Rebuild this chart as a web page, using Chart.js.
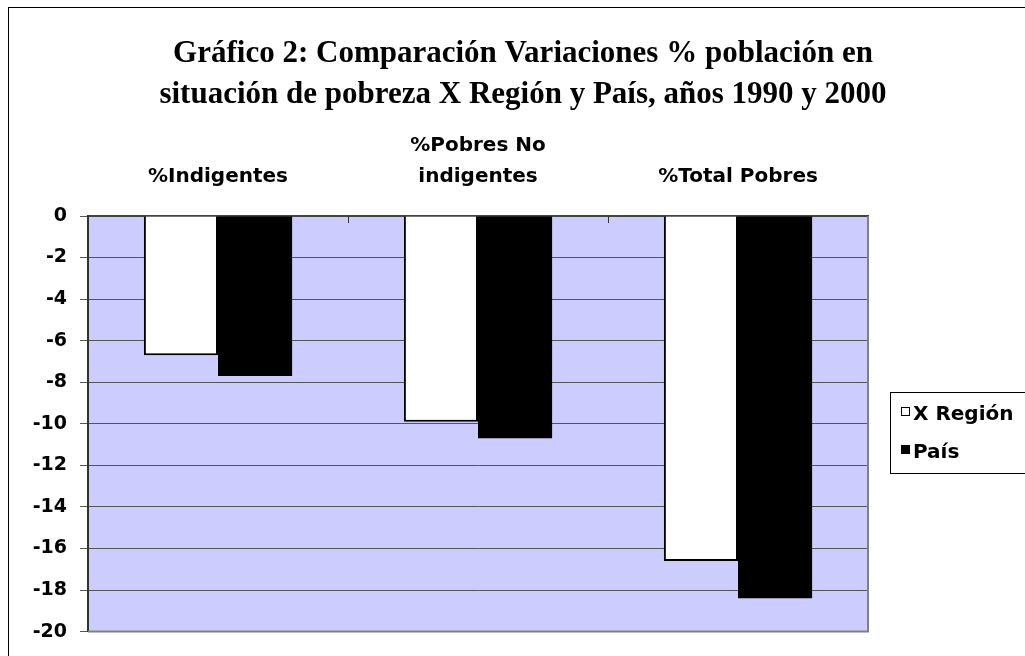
<!DOCTYPE html>
<html>
<head>
<meta charset="utf-8">
<script src="https://cdn.jsdelivr.net/npm/chart.js@4.4.1/dist/chart.umd.min.js"></script>
<style>
  html, body { margin: 0; padding: 0; background: #fff; }
  #wrap { width: 1025px; height: 656px; position: relative; }
</style>
</head>
<body>
<div id="wrap"><canvas id="c" width="1025" height="656"></canvas></div>
<script>
const titleLines = ['Gráfico 2: Comparación Variaciones % población en', 'situación de pobreza X Región y País, años 1990 y 2000'];
const categories = [['%Indigentes'], ['%Pobres No', 'indigentes'], ['%Total Pobres']];
const seriesNames = ['X Región', 'País'];
const regionValues = [-6.7, -9.9, -16.6];
const paisValues = [-7.7, -10.7, -18.4];
const yMin = -20, yMax = 0, yStep = 2;

const sansFamily = '"DejaVu Sans", "Liberation Sans", Arial, sans-serif';

const decor = {
  id: 'decor',
  beforeDraw(chart) {
    const ctx = chart.ctx, a = chart.chartArea;
    ctx.save();
    ctx.fillStyle = '#ffffff';
    ctx.fillRect(0, 0, chart.width, chart.height);
    ctx.fillStyle = '#CCCCFF';
    ctx.fillRect(a.left, a.top, a.right - a.left, a.bottom - a.top);
    ctx.restore();
  },
  afterDraw(chart) {
    const ctx = chart.ctx, a = chart.chartArea;
    ctx.save();
    // outer border
    ctx.strokeStyle = '#000';
    ctx.lineWidth = 1;
    ctx.strokeRect(8.5, 7.5, chart.width + 20, chart.height + 20);
    // plot right / bottom border
    ctx.strokeStyle = '#808080';
    ctx.lineWidth = 2;
    ctx.beginPath();
    ctx.moveTo(a.right, a.top);
    ctx.lineTo(a.right, a.bottom);
    ctx.lineTo(a.left, a.bottom);
    ctx.stroke();
    // inner tick marks on the category axis
    const xs = chart.scales.x;
    ctx.strokeStyle = '#333';
    ctx.lineWidth = 1;
    for (let i = 0; i < categories.length - 1; i++) {
      const px = Math.round((xs.getPixelForTick(i) + xs.getPixelForTick(i + 1)) / 2) + 0.5;
      ctx.beginPath();
      ctx.moveTo(px, a.top);
      ctx.lineTo(px, a.top + 7);
      ctx.stroke();
    }
    // title
    ctx.fillStyle = '#000';
    ctx.font = 'bold 31px "Liberation Serif", "Times New Roman", serif';
    ctx.textAlign = 'center';
    ctx.textBaseline = 'alphabetic';
    ctx.fillText(titleLines[0], 523, 62);
    ctx.fillText(titleLines[1], 523, 103);
    // legend
    ctx.strokeStyle = '#000';
    ctx.lineWidth = 1;
    ctx.strokeRect(890.5, 392.5, 200, 81);
    ctx.font = 'bold 20px ' + sansFamily;
    ctx.textAlign = 'left';
    const ds = chart.data.datasets;
    const rows = [420, 458];
    ds.forEach((d, i) => {
      const y = rows[i];
      ctx.fillStyle = d.backgroundColor;
      ctx.fillRect(901, y - 13, 9, 9);
      ctx.strokeStyle = '#000';
      ctx.strokeRect(901.5, y - 12.5, 8, 8);
      ctx.fillStyle = '#000';
      ctx.fillText(d.label, 913, y);
    });
    ctx.restore();
  }
};

new Chart(document.getElementById('c'), {
  type: 'bar',
  data: {
    labels: categories,
    datasets: [
      { label: seriesNames[0], data: regionValues, backgroundColor: '#ffffff', borderColor: '#000000', borderWidth: 2 },
      { label: seriesNames[1], data: paisValues, backgroundColor: '#000000', borderColor: '#000000', borderWidth: 0 }
    ]
  },
  options: {
    responsive: false,
    animation: false,
    devicePixelRatio: 1,
    layout: { padding: { top: 114, left: 0, right: 157, bottom: 24 } },
    datasets: { bar: { categoryPercentage: 0.57, barPercentage: 1.0 } },
    plugins: { legend: { display: false }, title: { display: false }, tooltip: { enabled: false } },
    scales: {
      x: {
        position: 'top',
        grid: { display: false, drawTicks: false },
        border: { display: true, color: '#444', width: 2 },
        ticks: {
          color: '#000',
          padding: 24,
          maxRotation: 0,
          autoSkip: false,
          font: { family: sansFamily, size: 20, weight: 'bold', lineHeight: '31px' }
        },
        afterFit(s) { s.height = 102; }
      },
      y: {
        min: yMin,
        max: yMax,
        grid: { color: '#555', lineWidth: 1, tickLength: 8, tickColor: '#555' },
        border: { display: true, color: '#333', width: 2 },
        ticks: {
          stepSize: yStep,
          color: '#000',
          padding: 13,
          font: { family: sansFamily, size: 19, weight: 'bold' }
        },
        afterFit(s) { s.width = 88; }
      }
    }
  },
  plugins: [decor]
});
</script>
</body>
</html>
